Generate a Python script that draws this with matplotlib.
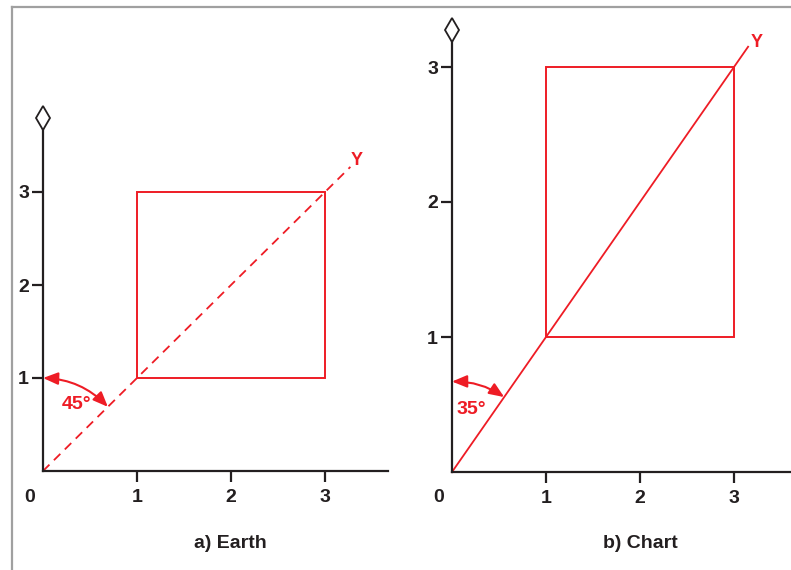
import matplotlib
matplotlib.use("Agg")
import matplotlib.pyplot as plt
from matplotlib.lines import Line2D
from matplotlib.patches import Rectangle

plt.rcParams["font.family"] = ["Liberation Sans", "DejaVu Sans"]
plt.rcParams["font.weight"] = "bold"

RED = "#ee1c25"
INK = "#231f20"

# ------------------------------------------------------------------ #
# Data                                                                 #
# ------------------------------------------------------------------ #
tick_values = [1, 2, 3]
tick_labels = ["1", "2", "3"]

box_corner = (1, 1)          # lower-left of the square / rectangle
box_size = (2, 2)            # width, height in axis units

earth_line_end = 3.27        # Y direction (dashed)
chart_line_end = 3.15        # Y direction (solid)

earth_arc_start = (0, 1.0)
earth_arc_end = (0.69, 0.69)
earth_angle = "45°"

chart_arc_start = (0, 0.67)
chart_arc_end = (0.555, 0.555)
chart_angle = "35°"

captions = ["a) Earth", "b) Chart"]

W, H = 791, 570
fig = plt.figure(figsize=(W / 100, H / 100), dpi=100)
fig.patch.set_facecolor("white")

# grey frame on top and left
fig.add_artist(Line2D([12 / W, 12 / W], [0, 1 - 7 / H], color="#a0a0a0", lw=1.6))
fig.add_artist(Line2D([12 / W, 1], [1 - 7 / H, 1 - 7 / H], color="#a0a0a0", lw=1.6))


def px_axes(x0, y0, x1, y1):
    """Axes from pixel box: (x0, y0) bottom-left origin, (x1, y1) top-right."""
    return fig.add_axes([x0 / W, 1 - y0 / H, (x1 - x0) / W, (y0 - y1) / H])


def setup(ax, xmax, ymax):
    ax.set_xlim(0, xmax)
    ax.set_ylim(0, ymax)
    for s in ("top", "right"):
        ax.spines[s].set_visible(False)
    for s in ("left", "bottom"):
        ax.spines[s].set_color(INK)
        ax.spines[s].set_linewidth(1.6)
    ax.set_xticks(tick_values, tick_labels)
    ax.set_yticks(tick_values, tick_labels)
    ax.tick_params(axis="both", direction="out", length=8, width=1.6,
                   color=INK, labelsize=14, labelcolor=INK)
    ax.tick_params(axis="x", pad=5)
    ax.tick_params(axis="y", pad=2)
    for lab in ax.get_xticklabels() + ax.get_yticklabels():
        lab.set_fontweight("bold")
    ax.patch.set_alpha(0)
    ax.plot([0], [ymax], marker="d", markersize=12.5, markerfacecolor="white",
            markeredgecolor=INK, markeredgewidth=1.3, clip_on=False, zorder=6)
    ax.annotate("0", xy=(0, 0), xytext=(-13, -26), textcoords="offset pixels",
                fontsize=14, fontweight="bold", color=INK,
                ha="center", va="center", annotation_clip=False)


def arc(ax, start, end, rad):
    ax.annotate("", xy=end, xytext=start,
                arrowprops=dict(arrowstyle="<|-|>,head_length=0.9,head_width=0.37",
                                color=RED, lw=1.5,
                                mutation_scale=10, shrinkA=0, shrinkB=0,
                                connectionstyle=f"arc3,rad={rad}"),
                annotation_clip=False)


# ------------------------------------------------------------------ #
# a) Earth                                                             #
# ------------------------------------------------------------------ #
ax_a = px_axes(43, 471, 388, 118)
setup(ax_a, 345 / 94, 353 / 93)
ax_a.add_patch(Rectangle(box_corner, *box_size, fill=False, edgecolor=RED, lw=1.4))
ax_a.plot([0, earth_line_end], [0, earth_line_end], color=RED, lw=1.3,
          dashes=(5, 3.5), clip_on=False)
ax_a.text(earth_line_end + 0.07, earth_line_end + 0.07, "Y", color=RED,
          fontsize=13, fontweight="bold", ha="center", va="center")
arc(ax_a, earth_arc_start, earth_arc_end, -0.2)
ax_a.text(0.36, 0.71, earth_angle, color=RED, fontsize=14, fontweight="bold",
          ha="center", va="center")

# ------------------------------------------------------------------ #
# b) Chart                                                             #
# ------------------------------------------------------------------ #
ax_b = px_axes(452, 472, 790, 30)
setup(ax_b, 338 / 94, 442 / 135)
ax_b.add_patch(Rectangle(box_corner, *box_size, fill=False, edgecolor=RED, lw=1.4))
ax_b.plot([0, chart_line_end], [0, chart_line_end], color=RED, lw=1.3,
          clip_on=False)
ax_b.text(chart_line_end + 0.09, chart_line_end + 0.03, "Y", color=RED,
          fontsize=13, fontweight="bold", ha="center", va="center")
arc(ax_b, chart_arc_start, chart_arc_end, -0.154)
ax_b.text(0.21, 0.46, chart_angle, color=RED, fontsize=14, fontweight="bold",
          ha="center", va="center")

# captions
fig.text(230 / W, 1 - 543 / H, captions[0], fontsize=14, fontweight="bold",
         color=INK, ha="center", va="center")
fig.text(640 / W, 1 - 543 / H, captions[1], fontsize=14, fontweight="bold",
         color=INK, ha="center", va="center")

fig.savefig("out.png", dpi=100)
